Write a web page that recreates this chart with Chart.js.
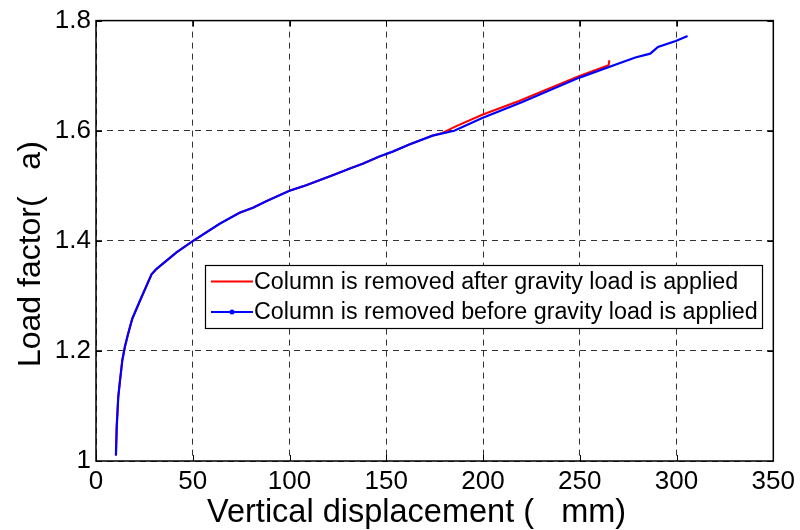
<!DOCTYPE html>
<html><head><meta charset="utf-8">
<script src="https://cdn.jsdelivr.net/npm/chart.js@4/dist/chart.umd.min.js"></script>
<style>html,body{margin:0;padding:0;background:#fff}#wrap{width:800px;height:530px;position:relative}</style>
</head><body><div id="wrap"><canvas id="c" width="800" height="530"></canvas></div>
<script>
// ---- data ----
const xTickValues = [0, 50, 100, 150, 200, 250, 300, 350];
const yTickValues = [1, 1.2, 1.4, 1.6, 1.8];
const yTickLabels = ['1', '1.2', '1.4', '1.6', '1.8'];
const xTitle = 'Vertical displacement (   mm)    ';
const yTitle = 'Load factor(   a)   ';
const seriesNames = ['Column is removed after gravity load is applied', 'Column is removed before gravity load is applied'];

const blueX = [10.3, 10.7, 11.5, 12.4, 13.6, 14.9, 16.6, 18.7, 22.7, 28.7, 31.3, 41.6, 50.2, 63.9, 74.2, 81.1, 88, 100, 108.6, 122.3, 130.9, 137.8, 146.4, 153.3, 161.9, 173.9, 185.1, 199.6, 220.3, 249.5, 270.1, 278.7, 286.4, 290.4, 299.6, 305.7];
const blueY = [1.01, 1.062, 1.116, 1.146, 1.183, 1.207, 1.231, 1.258, 1.291, 1.339, 1.349, 1.379, 1.400, 1.431, 1.451, 1.460, 1.472, 1.491, 1.501, 1.519, 1.531, 1.540, 1.553, 1.562, 1.575, 1.591, 1.600, 1.623, 1.652, 1.696, 1.722, 1.733, 1.740, 1.752, 1.763, 1.772];

const redX = [10.3, 10.7, 11.5, 12.4, 13.6, 14.9, 16.6, 18.7, 22.7, 28.7, 31.3, 41.6, 50.2, 63.9, 74.2, 81.1, 88, 100, 108.6, 122.3, 130.9, 137.8, 146.4, 153.3, 161.9, 173.9, 179, 185.9, 199.6, 218.6, 249.5, 264.9, 265.3];
const redY = [1.01, 1.062, 1.116, 1.146, 1.183, 1.207, 1.231, 1.258, 1.291, 1.339, 1.349, 1.379, 1.400, 1.431, 1.451, 1.460, 1.472, 1.491, 1.501, 1.519, 1.531, 1.540, 1.553, 1.562, 1.575, 1.591, 1.596, 1.608, 1.629, 1.654, 1.699, 1.719, 1.728];

const FONT = "'Liberation Sans', Arial, Helvetica, sans-serif";

const toPts = (xs, ys) => xs.map((x, i) => ({x: x, y: ys[i]}));

const framePlugin = {
  id: 'matlabFrame',
  afterDraw(chart) {
    const {ctx, chartArea: a, scales} = chart;
    ctx.save();
    // inward ticks
    ctx.strokeStyle = '#000';
    ctx.lineWidth = 1;
    const tl = 6;
    ctx.beginPath();
    xTickValues.forEach(v => {
      const px = Math.round(scales.x.getPixelForValue(v)) + 0.5;
      ctx.moveTo(px, a.bottom); ctx.lineTo(px, a.bottom - tl);
      ctx.moveTo(px, a.top); ctx.lineTo(px, a.top + tl);
    });
    yTickValues.forEach(v => {
      const py = Math.round(scales.y.getPixelForValue(v)) + 0.5;
      ctx.moveTo(a.left, py); ctx.lineTo(a.left + tl, py);
      ctx.moveTo(a.right, py); ctx.lineTo(a.right - tl, py);
    });
    ctx.stroke();
    // box
    ctx.lineWidth = 1.5;
    ctx.strokeRect(a.left, a.top, a.right - a.left, a.bottom - a.top);

    // legend inside plot
    const lx = 205, ly = 265, lw = 557, lh = 63;
    ctx.fillStyle = '#fff';
    ctx.fillRect(lx, ly, lw, lh);
    ctx.lineWidth = 1.2;
    ctx.strokeStyle = '#000';
    ctx.strokeRect(lx + 0.5, ly + 0.5, lw, lh);
    const colors = ['rgb(255,0,0)', 'rgb(0,0,255)'];
    const rows = [ly + 16.5, ly + 47];
    ctx.font = '23.3px ' + FONT;
    ctx.textBaseline = 'middle';
    ctx.textAlign = 'left';
    seriesNames.forEach((name, i) => {
      ctx.strokeStyle = colors[i];
      ctx.lineWidth = 2;
      ctx.beginPath();
      ctx.moveTo(lx + 6, rows[i]); ctx.lineTo(lx + 48, rows[i]);
      ctx.stroke();
      if (i === 1) {
        ctx.fillStyle = colors[i];
        ctx.beginPath(); ctx.arc(lx + 27, rows[i], 2.5, 0, Math.PI * 2); ctx.fill();
      }
      ctx.fillStyle = '#000';
      ctx.fillText(name, lx + 49, rows[i] + 1);
    });
    ctx.restore();
  }
};

new Chart(document.getElementById('c'), {
  type: 'line',
  data: {
    datasets: [
      {label: seriesNames[0], data: toPts(redX, redY), borderColor: 'rgb(255,0,0)', borderWidth: 2, pointRadius: 0, tension: 0, fill: false, order: 2},
      {label: seriesNames[1], data: toPts(blueX, blueY), borderColor: 'rgb(0,0,255)', borderWidth: 2.2, pointRadius: 0, tension: 0, fill: false, order: 1}
    ]
  },
  options: {
    responsive: false,
    animation: false,
    devicePixelRatio: 1,
    layout: {padding: {top: 19, right: 25, left: 0, bottom: 0}},
    plugins: {legend: {display: false}, tooltip: {enabled: false}},
    scales: {
      x: {
        type: 'linear', min: 0, max: 350,
        afterBuildTicks: s => { s.ticks = xTickValues.map(v => ({value: v})); },
        afterFit: s => { s.height = 69; },
        ticks: {font: {size: 26, family: FONT}, color: '#000', padding: 5, maxRotation: 0, callback: v => String(v)},
        grid: {color: 'rgba(0,0,0,0.8)', lineWidth: 1, drawTicks: false},
        border: {display: false, dash: [6, 5]},
        title: {display: true, text: xTitle, color: '#000', font: {size: 32.5, family: FONT, lineHeight: 1.05}, padding: 0}
      },
      y: {
        type: 'linear', min: 1, max: 1.8,
        afterBuildTicks: s => { s.ticks = yTickValues.map(v => ({value: v})); },
        afterFit: s => { s.width = 96; },
        ticks: {font: {size: 26, family: FONT}, color: '#000', padding: 5, callback: (v, i) => yTickLabels[i]},
        grid: {color: 'rgba(0,0,0,0.8)', lineWidth: 1, drawTicks: false},
        border: {display: false, dash: [6, 5]},
        title: {display: true, text: yTitle, color: '#000', font: {size: 32, family: FONT, lineHeight: 1.1}, padding: {top: 14, bottom: 0}}
      }
    }
  },
  plugins: [framePlugin]
});
</script></body></html>
